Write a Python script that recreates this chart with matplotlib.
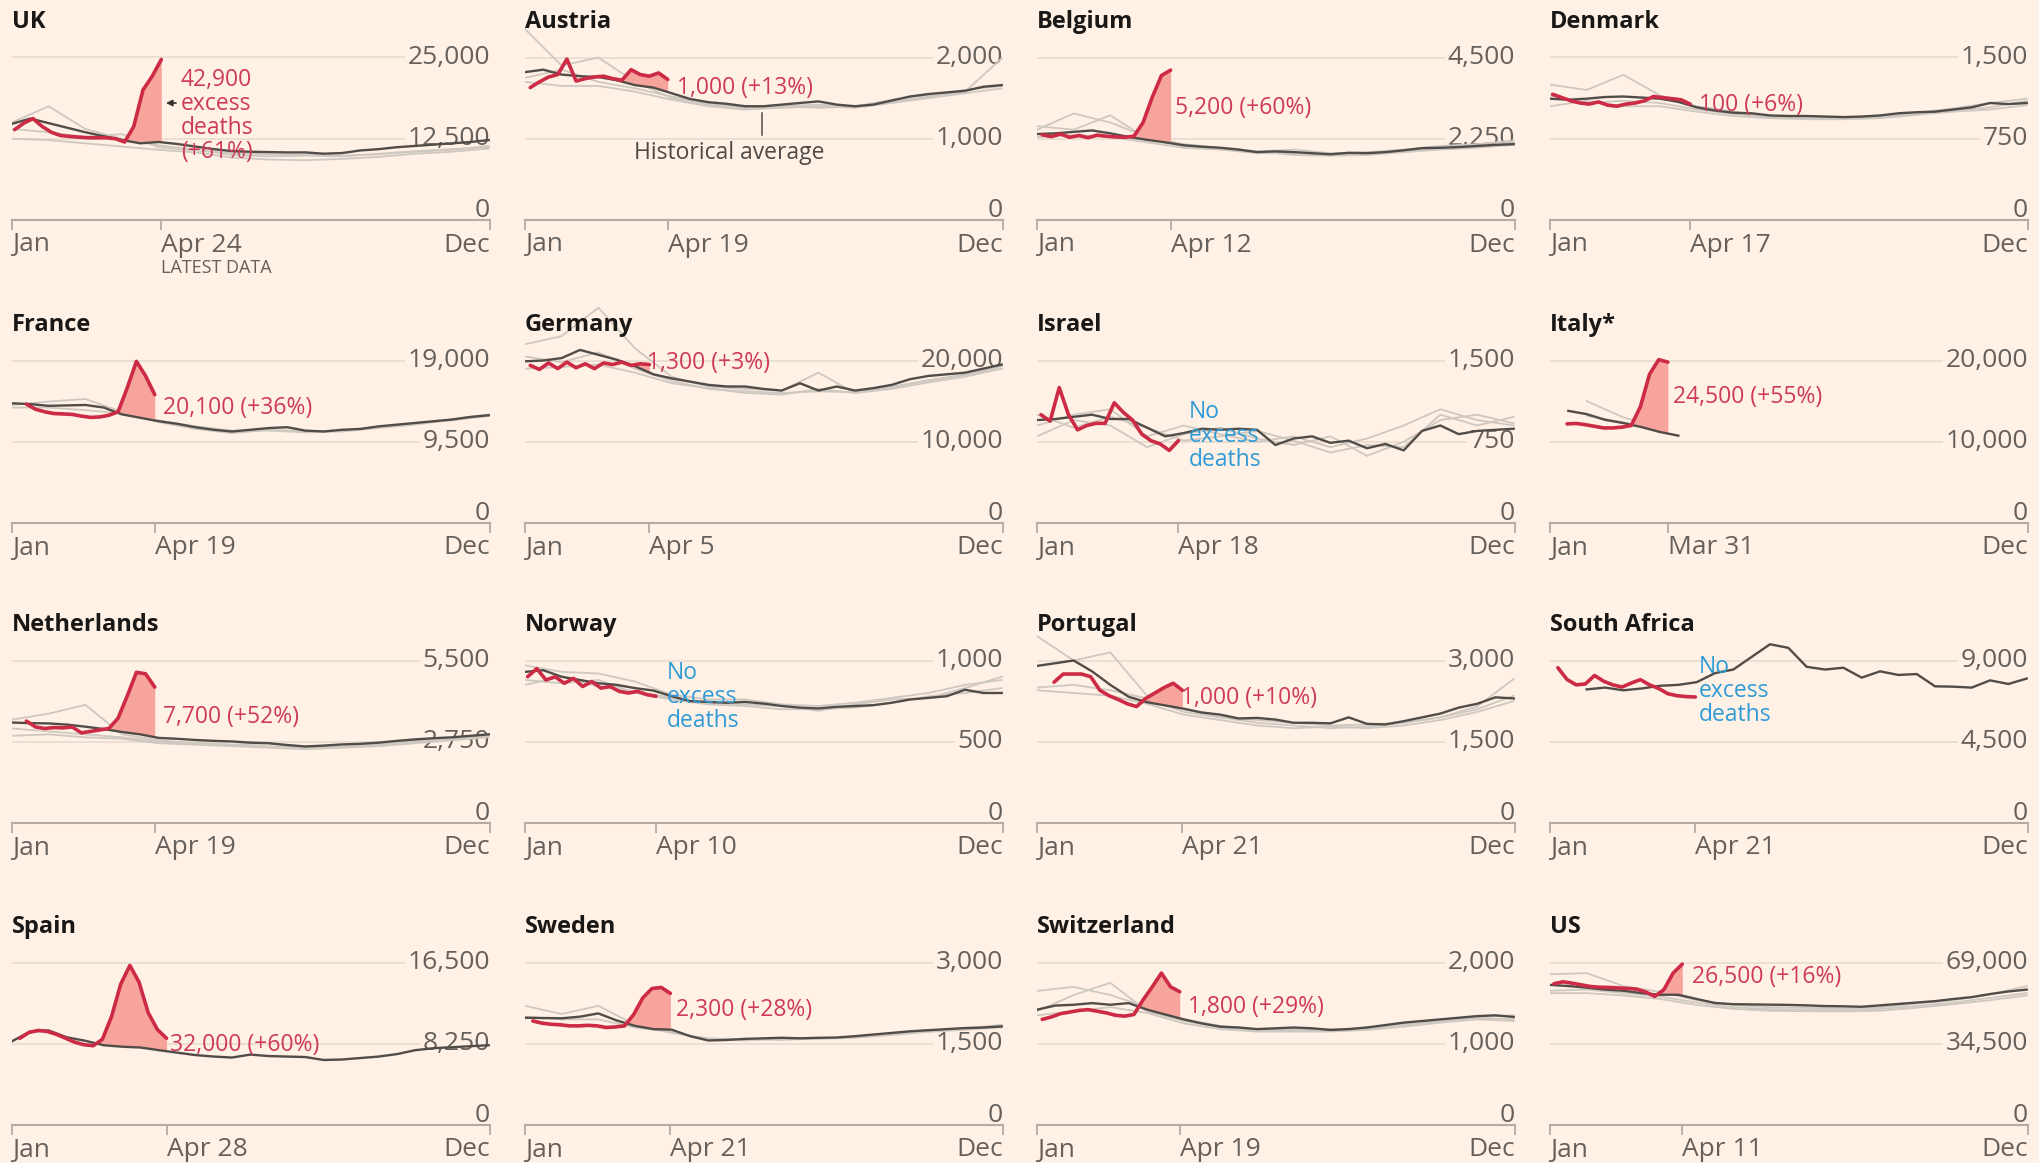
import matplotlib.pyplot as plt
import matplotlib.transforms as mtransforms
import numpy as np
import pandas as pd

nan = np.nan

# Weekly deaths, 2020 (red), historical average (dark) and a few past years (grey)
# avg: one value every 2 weeks from week 0; past years: one value every 4 weeks

uk_2020 = [13900, 14900, 15600, 14400, 13500, 13000, 12850, 12750, 12650, 12650, 12650, 12500, 12000, 14400, 20000, 22100, 24700]
uk_avg = [14800, 15600, 14900, 14200, 13500, 12900, 12300, 11800, 12000, 11700, 11300, 10900, 10600, 10500,
          10450, 10400, 10400, 10200, 10300, 10700, 10900, 11200, 11400, 11600, 11800, 12000, 12300]
uk_past = [[15000, 17500, 14000, 12500, 11500, 10800, 10000, 9800, 9900, 9800, 10200, 10600, 10900, 11200],
           [14000, 13500, 12800, 13200, 11200, 10700, 10300, 10100, 10000, 9900, 10100, 10500, 10800, 11400],
           [12500, 12300, 11800, 11300, 10800, 10400, 9600, 9300, 9200, 9400, 9700, 10200, 10500, 11000]]

aut_2020 = [1630, 1700, 1760, 1790, 1980, 1710, 1740, 1760, 1770, 1740, 1720, 1850, 1790, 1770, 1810, 1730]
aut_avg = [1820, 1850, 1790, 1770, 1760, 1720, 1660, 1630, 1560, 1490, 1450, 1430, 1400, 1400,
           1420, 1440, 1460, 1420, 1400, 1420, 1470, 1520, 1550, 1570, 1590, 1640, 1660]
aut_past = [[2350, 1900, 2000, 1700, 1500, 1420, 1380, 1400, 1420, 1390, 1450, 1520, 1580, 1990],
            [1750, 1850, 1700, 1620, 1520, 1440, 1380, 1400, 1380, 1400, 1480, 1540, 1600, 1650],
            [1700, 1650, 1650, 1580, 1480, 1400, 1360, 1380, 1400, 1380, 1440, 1500, 1560, 1620]]

bel_2020 = [2360, 2310, 2380, 2290, 2340, 2280, 2350, 2320, 2300, 2290, 2320, 2700, 3400, 4000, 4150]
bel_avg = [2380, 2400, 2440, 2480, 2400, 2300, 2220, 2150, 2070, 2030, 2000, 1950, 1880, 1900,
           1880, 1850, 1820, 1860, 1850, 1880, 1930, 1990, 2000, 2020, 2050, 2080, 2100]
bel_past = [[2500, 2950, 2700, 2300, 2100, 2000, 1900, 1950, 1850, 1880, 1950, 2050, 2100, 2200],
            [2600, 2500, 2900, 2250, 2050, 1950, 1850, 1850, 1800, 1850, 1900, 2000, 2050, 2150],
            [2300, 2350, 2300, 2150, 2000, 1950, 1900, 1800, 1780, 1800, 1880, 1950, 2000, 2080]]

den_2020 = [1160, 1130, 1100, 1080, 1070, 1090, 1060, 1050, 1070, 1080, 1100, 1140, 1130, 1120, 1110, 1070]
den_avg = [1120, 1110, 1120, 1135, 1140, 1130, 1120, 1090, 1040, 1010, 990, 985, 965, 960,
           960, 955, 950, 955, 965, 985, 995, 1000, 1020, 1040, 1080, 1070, 1080]
den_past = [[1250, 1200, 1340, 1150, 1050, 1000, 960, 950, 940, 960, 990, 1030, 1080, 1120],
            [1150, 1080, 1100, 1080, 1020, 980, 950, 940, 950, 950, 980, 1010, 1040, 1100],
            [1050, 1100, 1050, 1050, 1000, 960, 940, 930, 930, 940, 970, 1000, 1020, 1060]]

fra_2020 = [13900, 13300, 13000, 12800, 12750, 12700, 12500, 12350, 12400, 12600, 13000, 15800, 18900, 17200, 15000]
fra_avg = [14000, 13900, 13700, 13750, 13800, 13500, 12700, 12300, 11900, 11600, 11200, 10900, 10700, 10900,
           11100, 11200, 10800, 10700, 10900, 11000, 11300, 11500, 11700, 11900, 12100, 12400, 12600]
fra_past = [[13800, 14200, 14500, 13000, 11800, 11000, 10500, 10900, 10700, 10800, 11200, 11600, 12000, 12500],
            [13500, 13500, 13200, 12800, 12000, 11300, 10800, 10800, 10600, 10700, 11100, 11500, 12100, 12700]]

ger_2020 = [19400, 18900, 19700, 19000, 19800, 19100, 19600, 19000, 19700, 19500, 19800, 19400, 19600, 19500]
ger_avg = [19900, 20000, 20300, 21300, 20700, 20100, 19300, 18300, 17800, 17400, 17000, 16800, 16800, 16500,
           16300, 17200, 16300, 16800, 16300, 16600, 17000, 17700, 18100, 18300, 18500, 19000, 19500]
ger_past = [[22000, 23000, 26500, 21500, 18000, 16800, 16500, 16300, 18500, 16000, 16800, 17500, 18300, 19000],
            [20500, 19800, 21000, 19000, 17500, 16500, 16200, 16000, 16200, 16100, 16700, 17600, 18200, 19300],
            [19000, 19200, 19500, 18500, 17200, 16600, 16000, 15800, 16500, 16000, 16500, 17300, 18000, 19000]]

isr_2020 = [1000, 940, 1250, 1000, 860, 900, 920, 920, 1110, 1020, 950, 820, 760, 730, 670, 760]
isr_avg = [950, 960, 980, 1000, 960, 960, 880, 800, 830, 870, 860, 870, 860, 720,
           780, 800, 740, 760, 690, 730, 670, 850, 900, 820, 850, 860, 870]
isr_past = [[900, 1000, 1050, 800, 900, 820, 750, 800, 700, 780, 900, 1050, 950, 900],
            [800, 950, 900, 700, 820, 880, 780, 720, 800, 620, 750, 950, 1000, 920],
            [1000, 880, 980, 880, 760, 800, 850, 760, 650, 720, 700, 1000, 900, 980]]

ita_2020 = [12200, 12250, 12100, 11900, 11700, 11700, 11800, 12000, 14300, 18300, 20100, 19800]
ita_avg = [nan, 13800, 13400, 12700, 12300, 11800, 11200, 10750]
ita_past = [[nan, 15000, 13000, 11700],
            [nan, 13200, 12400, 11400]]

ned_2020 = [3450, 3250, 3200, 3230, 3220, 3250, 3050, 3100, 3150, 3200, 3550, 4300, 5100, 5050, 4600]
ned_avg = [3400, 3380, 3370, 3330, 3260, 3180, 3080, 3000, 2880, 2850, 2810, 2780, 2760, 2720,
           2700, 2640, 2590, 2620, 2660, 2680, 2720, 2780, 2830, 2870, 2900, 2950, 3000]
ned_past = [[3500, 3700, 4000, 3000, 2800, 2700, 2650, 2700, 2550, 2600, 2700, 2800, 2850, 3000],
            [3200, 3100, 3000, 2900, 2750, 2700, 2650, 2600, 2550, 2550, 2650, 2750, 2850, 2950],
            [2950, 3000, 2900, 2850, 2700, 2650, 2600, 2550, 2500, 2550, 2600, 2700, 2800, 2900]]

nor_2020 = [900, 950, 880, 900, 860, 890, 840, 870, 830, 840, 810, 800, 810, 790, 780]
nor_avg = [930, 940, 900, 880, 860, 850, 830, 815, 780, 750, 745, 740, 745, 735,
           720, 710, 705, 715, 720, 725, 740, 760, 770, 780, 820, 800, 800]
nor_past = [[970, 930, 920, 870, 790, 760, 760, 730, 720, 740, 770, 800, 850, 880],
            [880, 860, 880, 800, 760, 730, 720, 700, 700, 710, 740, 780, 800, 830],
            [850, 900, 840, 810, 770, 740, 730, 720, 690, 730, 760, 770, 830, 900]]

por_2020 = [2600, 2750, 2750, 2750, 2700, 2450, 2350, 2280, 2200, 2150, 2300, 2400, 2500, 2580, 2450]
por_avg = [2900, 2950, 3000, 2800, 2550, 2330, 2230, 2170, 2110, 2040, 2000, 1930, 1940, 1910,
           1850, 1850, 1840, 1950, 1830, 1820, 1880, 1950, 2020, 2130, 2200, 2320, 2300]
por_past = [[3450, 3000, 3150, 2350, 2100, 1950, 1900, 1850, 1800, 1820, 1850, 1950, 2150, 2660],
            [2500, 2550, 2450, 2300, 2050, 1950, 1850, 1800, 1750, 1780, 1850, 1950, 2100, 2350],
            [2450, 2400, 2350, 2200, 2000, 1900, 1800, 1750, 1780, 1750, 1800, 1900, 2050, 2250]]

rsa_2020 = [8600, 7950, 7650, 7700, 8170, 7850, 7650, 7530, 7750, 7940, 7650, 7450, 7160, 7050, 7000, 6980]
rsa_avg = [nan, nan, 7400, 7500, 7350, 7450, 7600, 7650, 7800, 8300, 8500, 9200, 9900, 9700,
           8650, 8500, 8600, 8050, 8400, 8200, 8250, 7570, 7550, 7500, 7900, 7700, 8000]
rsa_past = []

esp_2020 = [8800, 9400, 9600, 9500, 9200, 8800, 8400, 8150, 8050, 8700, 11000, 14300, 16200, 14500, 11400, 9700, 8800]
esp_avg = [8500, 9500, 9600, 8900, 8550, 8100, 7950, 7870, 7600, 7350, 7100, 6950, 6850, 7150,
           7000, 6950, 6900, 6600, 6650, 6800, 6950, 7200, 7600, 7800, 7900, 8000, 8100]
esp_past = []

swe_2020 = [1920, 1880, 1860, 1850, 1830, 1830, 1840, 1830, 1800, 1810, 1830, 2040, 2350, 2520, 2540, 2430]
swe_avg = [1980, 1975, 1970, 2000, 2060, 1930, 1830, 1770, 1760, 1640, 1560, 1570, 1590, 1600,
           1610, 1600, 1610, 1615, 1640, 1670, 1700, 1730, 1750, 1770, 1790, 1800, 1820]
swe_past = [[2200, 2050, 2200, 1850, 1700, 1600, 1580, 1570, 1600, 1620, 1680, 1730, 1780, 1850],
            [2000, 1950, 1950, 1800, 1720, 1580, 1560, 1600, 1590, 1610, 1660, 1720, 1760, 1800]]

sui_2020 = [1300, 1330, 1370, 1390, 1410, 1420, 1400, 1380, 1350, 1340, 1360, 1540, 1700, 1870, 1700, 1640]
sui_avg = [1420, 1470, 1480, 1500, 1480, 1500, 1420, 1360, 1300, 1250, 1210, 1200, 1180, 1190,
           1200, 1190, 1170, 1180, 1200, 1230, 1260, 1280, 1300, 1320, 1340, 1350, 1330]
sui_past = [[1650, 1700, 1600, 1450, 1300, 1220, 1180, 1180, 1160, 1200, 1250, 1290, 1330, 1350],
            [1400, 1600, 1750, 1400, 1280, 1200, 1170, 1160, 1180, 1190, 1230, 1280, 1320, 1300],
            [1350, 1400, 1450, 1380, 1250, 1180, 1150, 1150, 1150, 1170, 1210, 1260, 1300, 1280]]

usa_2020 = [60000, 60800, 60200, 59500, 58800, 58500, 58400, 58200, 58000, 57700, 56500, 54600, 57500, 64500, 68300]
usa_avg = [59500, 59000, 58300, 57500, 57000, 56000, 55300, 55300, 53500, 51800, 51300, 51200, 51100, 51000,
           50800, 50500, 50400, 50200, 50800, 51400, 52000, 52600, 53500, 54300, 55600, 56700, 57500]
usa_past = [[64000, 64500, 59000, 56500, 53000, 51000, 50000, 49800, 49500, 50000, 51500, 53000, 55500, 59000],
            [57000, 57500, 56000, 54500, 52000, 50000, 49200, 49000, 48800, 49300, 50500, 52000, 54000, 56000],
            [56000, 56000, 55000, 53500, 51000, 49300, 48500, 48300, 48200, 48500, 49800, 51300, 53000, 55000]]

names = ["UK", "Austria", "Belgium", "Denmark", "France", "Germany", "Israel", "Italy*",
         "Netherlands", "Norway", "Portugal", "South Africa", "Spain", "Sweden", "Switzerland", "US"]
tops = [25000, 2000, 4500, 1500, 19000, 20000, 1500, 20000, 5500, 1000, 3000, 9000, 16500, 3000, 2000, 69000]
latest = ["Apr 24", "Apr 19", "Apr 12", "Apr 17", "Apr 19", "Apr 5", "Apr 18", "Mar 31",
          "Apr 19", "Apr 10", "Apr 21", "Apr 21", "Apr 28", "Apr 21", "Apr 19", "Apr 11"]
notes = ["42,900\nexcess\ndeaths\n(+61%)", "1,000 (+13%)", "5,200 (+60%)", "100 (+6%)",
         "20,100 (+36%)", "1,300 (+3%)", "No\nexcess\ndeaths", "24,500 (+55%)",
         "7,700 (+52%)", "No\nexcess\ndeaths", "1,000 (+10%)", "No\nexcess\ndeaths",
         "32,000 (+60%)", "2,300 (+28%)", "1,800 (+29%)", "26,500 (+16%)"]
series_2020 = [uk_2020, aut_2020, bel_2020, den_2020, fra_2020, ger_2020, isr_2020, ita_2020,
               ned_2020, nor_2020, por_2020, rsa_2020, esp_2020, swe_2020, sui_2020, usa_2020]
series_avg = [uk_avg, aut_avg, bel_avg, den_avg, fra_avg, ger_avg, isr_avg, ita_avg,
              ned_avg, nor_avg, por_avg, rsa_avg, esp_avg, swe_avg, sui_avg, usa_avg]
series_past = [uk_past, aut_past, bel_past, den_past, fra_past, ger_past, isr_past, ita_past,
               ned_past, nor_past, por_past, rsa_past, esp_past, swe_past, sui_past, usa_past]

# where the labels sit: (week, share of the top gridline value)
note_pos = [(18.4, 0.64), (16.6, 0.81), (15.05, 0.69), (16.25, 0.71), (16.5, 0.71), (13.3, 0.985),
            (16.5, 0.535), (13.4, 0.775), (16.5, 0.652), (15.5, 0.775), (15.7, 0.769), (16.25, 0.812),
            (17.2, 0.492), (16.5, 0.708), (16.5, 0.726), (15.5, 0.911)]

bg = '#fff1e5'
red = '#cc2a45'
red_txt = '#cf3a56'
blue = '#2e9bd6'
fill_col = '#f7a59c'
dark = '#524c48'
grey = '#cfc8c1'
grid_col = '#e9ddd2'
axis_col = '#b3aba4'
tick_col = '#66605c'

plt.rcParams['font.family'] = ['Open Sans', 'DejaVu Sans']

W, H = 2039, 1163
fig = plt.figure(figsize=(W / 100, H / 100), dpi=100, facecolor=bg)

col_left = [12, 525, 1037, 1550]
row_base = [220, 523, 823, 1125]
ax_w, ax_h, grid_h = 478, 230, 162.5
year_end = 52.14

w_avg = np.arange(0, 53, 2)
w_past = np.arange(0, 53, 4)

for i, name in enumerate(names):
    r, c = divmod(i, 4)
    ax = fig.add_axes([col_left[c] / W, (H - row_base[r]) / H, ax_w / W, ax_h / H])
    ax.set_facecolor('none')
    top = tops[i]
    ax.set_xlim(0, year_end)
    ax.set_ylim(0, top * ax_h / grid_h)

    day = pd.to_datetime(latest[i] + " 2020", format="%b %d %Y").dayofyear
    wk = (day - 1) / 7

    # grid + y labels on the right
    ytrans = mtransforms.blended_transform_factory(ax.transAxes, ax.transData)
    for v in (top / 2, top):
        ax.axhline(v, color=grid_col, lw=1.3, zorder=1)
        ax.text(1.0, v, f"{v:,.0f}", transform=ytrans, ha='right', va='center', fontsize=19,
                color=tick_col, zorder=1.5, bbox=dict(facecolor=bg, edgecolor='none', pad=2))
    ax.text(1.0, top * 3 / grid_h, "0", transform=ytrans, ha='right', va='baseline',
            fontsize=19, color=tick_col)

    # past years
    for p in series_past[i]:
        ax.plot(w_past[:len(p)], p, color=grey, lw=1.3, zorder=2)

    # historical average
    avg = np.array(series_avg[i], dtype=float)
    xa = w_avg[:len(avg)]
    ax.plot(xa, avg, color=dark, lw=1.7, zorder=3)

    # 2020, shaded only over the latest run above the average
    cur = np.array(series_2020[i], dtype=float)
    xr = wk - np.arange(len(cur))[::-1]
    excess = not notes[i].startswith("No")
    if excess:
        ok = ~np.isnan(avg)
        base = np.interp(xr, xa[ok], avg[ok])
        below = np.where(cur <= base)[0]
        start = below[-1] if len(below) else 0
        ax.fill_between(xr[start:], base[start:], cur[start:],
                        where=cur[start:] >= base[start:], interpolate=True,
                        color=fill_col, lw=0, zorder=2.5)
    ax.plot(xr, cur, color=red, lw=2.6, zorder=4, solid_capstyle='round')

    # note
    nx, ny = note_pos[i]
    ncol = red_txt if excess else blue
    ax.text(nx, ny * top, notes[i], color=ncol, fontsize=16.5, ha='left', va='center',
            linespacing=1.0, zorder=5)

    # title
    ax.text(0, 198 / ax_h, name, transform=ax.transAxes, fontsize=17, fontweight='bold',
            color='#1a1817', ha='left', va='center')

    # x axis
    for s in ('top', 'left', 'right'):
        ax.spines[s].set_visible(False)
    ax.spines['bottom'].set_color(axis_col)
    ax.spines['bottom'].set_linewidth(1.5)
    ax.set_yticks([])
    ax.set_xticks([0, wk, year_end])
    ax.set_xticklabels(["Jan", latest[i], "Dec"])
    labs = ax.get_xticklabels()
    labs[0].set_ha('left')
    labs[1].set_ha('left')
    labs[2].set_ha('right')
    ax.tick_params(axis='x', direction='out', length=7, width=1.3, color=axis_col,
                   labelsize=19, labelcolor=tick_col, pad=2)

    if name == "UK":
        ax.annotate('', xy=(16.5, 0.72 * top), xytext=(18.2, 0.72 * top),
                    arrowprops=dict(arrowstyle='-|>', color='#33302e', lw=1.2, mutation_scale=9))
        xtrans = mtransforms.blended_transform_factory(ax.transData, ax.transAxes)
        ax.text(wk, -0.21, "LATEST DATA", transform=xtrans, fontsize=13, color=tick_col,
                ha='left', va='center')
    if name == "Austria":
        ax.plot([25.85, 25.85], [0.523 * top, 0.658 * top], color=dark, lw=1.1, zorder=3)
        ax.text(11.9, 0.412 * top, "Historical average", color='#4e4a47', fontsize=16.5,
                ha='left', va='center')

fig.savefig("out.png", dpi=100, facecolor=bg)
